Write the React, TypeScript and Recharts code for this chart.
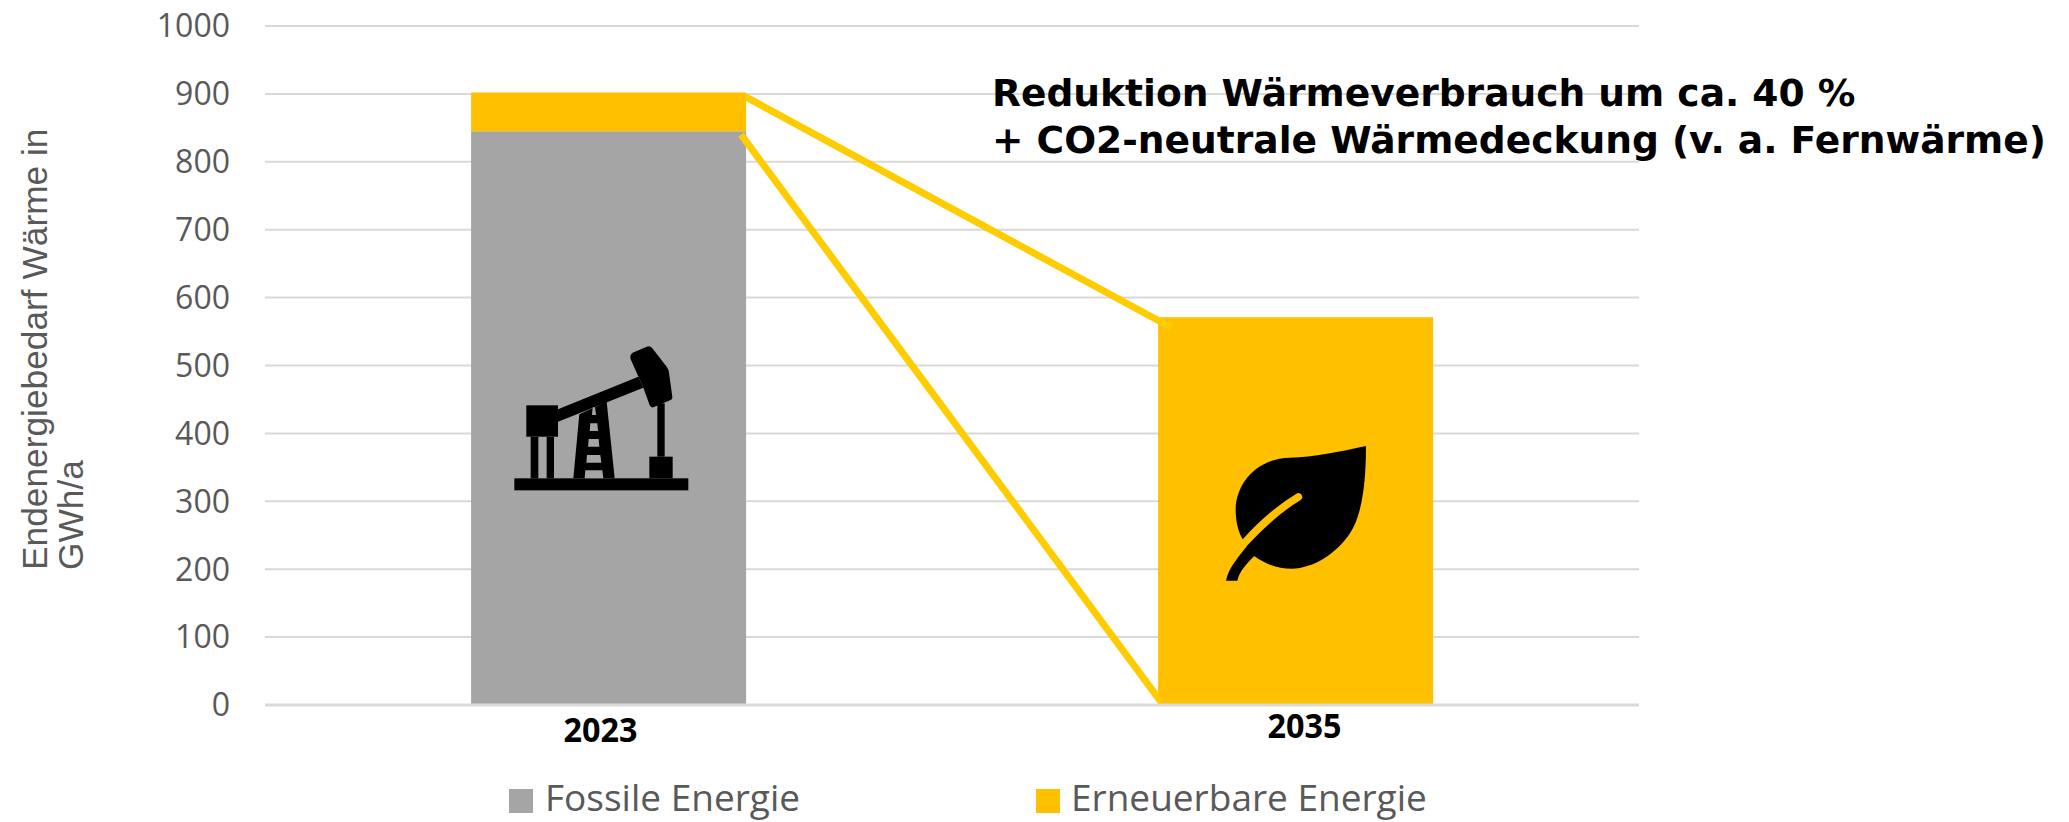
import { BarChart, Bar, XAxis, YAxis, CartesianGrid, ReferenceLine, Legend } from "recharts";

const years = ["2023", "2035"];
const fossil = [845, 0];
const renewable = [57, 571];
const yTicks = [0, 100, 200, 300, 400, 500, 600, 700, 800, 900, 1000];
// connector ends: x as a share of the plot width, y in GWh/a
const upperLine = [
  { x: 0.3495, y: 896 },
  { x: 0.6595, y: 556 },
];
const lowerLine = [
  { x: 0.3465, y: 840 },
  { x: 0.652, y: 5 },
];
const seriesNames = ["Fossile Energie", "Erneuerbare Energie"];
const noteLines = [
  "Reduktion Wärmeverbrauch um ca. 40 %",
  "+ CO2-neutrale Wärmedeckung (v. a. Fernwärme)",
];

const data = years.map((year, i) => ({
  year,
  fossil: fossil[i],
  renewable: renewable[i],
}));

const GREY = "#a5a5a5";
const GOLD = "#ffc000";
const LINE = "#ffcc00";
const TEXT = "#595959";
const FONT = "'Open Sans', sans-serif";

function YearTick({ x, y, payload }: any) {
  // the two year labels are not centred under the bars in the original
  const is2035 = payload.value === "2035";
  const dx = is2035 ? 9 : -8;
  const dy = is2035 ? 25 : 29;
  return (
    <text x={x + dx} y={y + dy} textAnchor="middle" fontFamily={FONT} fontSize={34} fontWeight={700} fill="#000" textLength={74} lengthAdjust="spacingAndGlyphs">
      {payload.value}
    </text>
  );
}

function SwatchLegend() {
  const items = [
    { left: 509, textLeft: 545, color: GREY, name: seriesNames[0] },
    { left: 1036, textLeft: 1071, color: GOLD, name: seriesNames[1] },
  ];
  return (
    <div style={{ position: "relative", height: 40 }}>
      {items.map((item) => (
        <div key={item.name}>
          <span style={{ position: "absolute", left: item.left, top: 7, width: 24, height: 24, background: item.color }} />
          <span style={{ position: "absolute", left: item.textLeft, top: -5, fontFamily: FONT, fontSize: 37, color: TEXT, whiteSpace: "nowrap", lineHeight: "40px" }}>
            {item.name}
          </span>
        </div>
      ))}
    </div>
  );
}

function PumpIcon() {
  return (
    <svg style={{ position: "absolute", left: 440, top: 320 }} width={300} height={200} viewBox="0 0 900 600">
      <rect x={223} y={475} width={522} height={36} fill="#000" />
      <rect x={259} y={256} width={95} height={94} fill="#000" />
      <rect x={272} y={350} width={23} height={125} fill="#000" />
      <rect x={320} y={350} width={22} height={125} fill="#000" />
      <polygon points="354,268 595,170 610,203 354,305" fill="#000" />
      <path d="M578,98 L620,80 Q630,76 637,85 L680,140 Q686,148 687,158 L697,230 Q698,238 690,241 L642,261 Q634,265 629,256 L610,203 L572,118 Q568,104 578,98 Z" fill="#000" />
      <rect x={652} y={250} width={22} height={160} fill="#000" />
      <rect x={628} y={410} width={70} height={65} fill="#000" />
      <polygon points="400,475 418,283 500,245 524,475" fill="#000" />
      <polygon points="458,262 465,262 468,285 456,285" fill={GREY} />
      <polygon points="451,310 472,310 474,333 449,333" fill={GREY} />
      <polygon points="446,357 476,357 478,380 444,380" fill={GREY} />
      <polygon points="441,405 481,405 484,428 439,428" fill={GREY} />
      <polygon points="436,451 487,451 490,475 434,475" fill={GREY} />
    </svg>
  );
}

function LeafIcon() {
  return (
    <svg style={{ position: "absolute", left: 1180, top: 420 }} width={240} height={180} viewBox="0 0 720 540">
      <path d="M558,78 C480,95 400,112 330,113 C230,115 167,190 167,270 C167,305 175,335 188,358 L222,408 C260,435 295,446 335,446 C400,446 470,400 510,340 C550,280 558,170 558,78 Z" fill="#000" />
      <path d="M355,231 C290,270 240,318 196,366 L175,386" stroke={GOLD} strokeWidth={23} strokeLinecap="round" fill="none" />
      <path d="M204,374 C175,410 145,445 138,482 L172,482 C178,455 200,430 223,408 Z" fill="#000" />
    </svg>
  );
}

function AxisTitle() {
  return (
    <svg style={{ position: "absolute", left: 0, top: 0 }} width={130} height={700}>
      <g fontFamily="'Liberation Sans', sans-serif" fontSize={35.3} fill={TEXT}>
        <text transform="translate(47,570) rotate(-90)">Endenergiebedarf Wärme in</text>
        <text transform="translate(83,570) rotate(-90)">GWh/a</text>
      </g>
    </svg>
  );
}

export default function App() {
  return (
    <div style={{ position: "absolute", left: 0, top: 0, width: 2069, height: 822, background: "#fff", overflow: "hidden" }}>
      <BarChart
        width={2069}
        height={822}
        data={data}
        barCategoryGap="30%"
        margin={{ top: 26, right: 430, bottom: 0, left: 0 }}
      >
        <CartesianGrid horizontal vertical={false} stroke="#d9d9d9" strokeWidth={2} />
        <XAxis dataKey="year" tick={<YearTick />} axisLine={{ stroke: "#d9d9d9", strokeWidth: 3 }} tickLine={false} interval={0} height={77} />
        <XAxis xAxisId="span" type="number" domain={[0, 1]} hide />
        <YAxis
          width={265}
          domain={[0, 1000]}
          ticks={yTicks}
          interval={0}
          axisLine={false}
          tickLine={false}
          tickMargin={29}
          tick={{ fontFamily: FONT, fontSize: 32, fill: TEXT }}
        />
        <Legend content={<SwatchLegend />} verticalAlign="bottom" align="left" wrapperStyle={{ left: 0, bottom: 0, width: 2069, height: 40 }} />
        <Bar dataKey="fossil" stackId="a" fill={GREY} isAnimationActive={false} />
        <Bar dataKey="renewable" stackId="a" fill={GOLD} isAnimationActive={false} />
        <ReferenceLine xAxisId="span" segment={upperLine} stroke={LINE} strokeWidth={7} ifOverflow="visible" />
        <ReferenceLine xAxisId="span" segment={lowerLine} stroke={LINE} strokeWidth={7} ifOverflow="visible" />
      </BarChart>
      <AxisTitle />
      <PumpIcon />
      <LeafIcon />
      <div style={{ position: "absolute", left: 992, top: 70, fontFamily: "'DejaVu Sans', sans-serif", fontWeight: 700, fontSize: 37.6, lineHeight: "47px", color: "#000", whiteSpace: "nowrap" }}>
        {noteLines.map((line) => (
          <div key={line}>{line}</div>
        ))}
      </div>
    </div>
  );
}
